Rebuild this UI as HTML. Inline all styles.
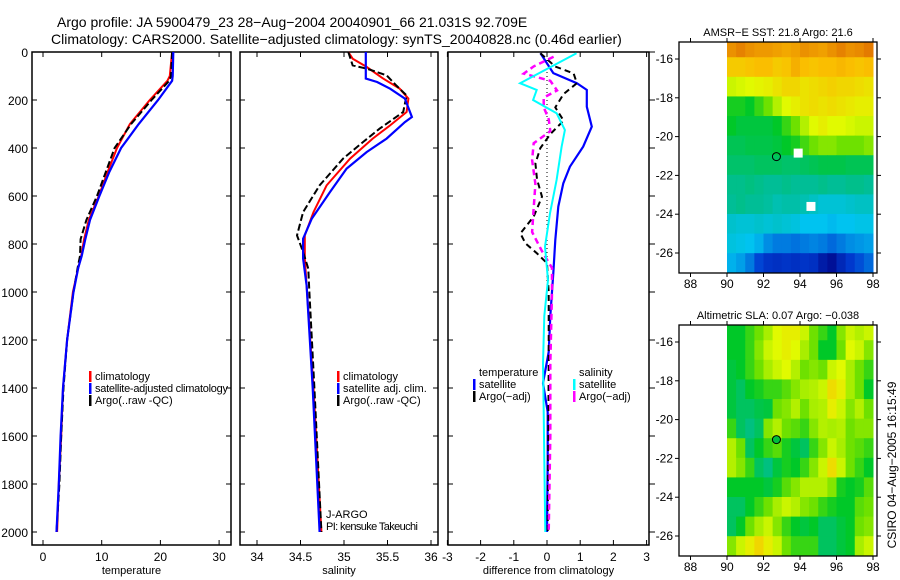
<!DOCTYPE html>
<html><head><meta charset="utf-8"><style>
body{margin:0;background:#fff;}
svg{display:block;font-family:"Liberation Sans",sans-serif;}
</style></head><body>
<svg id="fig" width="900" height="580" viewBox="0 0 900 580">
<text x="57" y="27" font-size="14">Argo profile: JA 5900479_23 28−Aug−2004 20040901_66 21.031S 92.709E</text>
<text x="51" y="44" font-size="14">Climatology: CARS2000. Satellite−adjusted climatology: synTS_20040828.nc (0.46d earlier)</text>
</svg>
<script>
// ---- data ----
const depthT = [0,100,120,200,300,400,500,600,700,780,850,900,1000,1200,1400,1600,1800,2000];
const tempClim = [22,21.6,21.2,18.2,14.8,12.6,11,9.5,7.8,7.0,6.5,6,5.1,4.1,3.4,3.1,2.7,2.4];
const tempSat = [22.2,22.1,22.0,19.6,16.3,13.3,11.3,9.6,8,7.2,6.6,6,5.2,4.1,3.4,3.0,2.7,2.3];
const tempArgo = [22,21.8,21.5,18.5,15,12.2,10.7,9.2,7.4,6.4,6.3,5.9,5.2,4.1,3.5,3.1,2.8,2.3];
const depthSB = [0,111,125,153,194,271,292,361,417,486,583,694,778,861,972,1400,2000];
const salSat = [35.25,35.25,35.38,35.53,35.70,35.78,35.70,35.49,35.26,35.03,34.84,34.63,34.53,34.53,34.57,34.64,34.72];
const depthSR = [0,28,62,111,153,194,250,306,361,444,556,667,764,861,972,1400,2000];
const salClim = [35.05,35.1,35.26,35.45,35.64,35.74,35.72,35.53,35.33,35.07,34.8,34.65,34.55,34.55,34.57,34.65,34.74];
const depthSK = [0,56,69,97,139,181,250,319,375,444,556,667,764,833,903,986,1400,2000];
const salArgo = [35.05,35.1,35.26,35.49,35.6,35.72,35.68,35.41,35.22,34.99,34.72,34.53,34.46,34.53,34.59,34.6,34.66,34.74];
const dDepthTS = [5,88,130,158,228,311,394,478,547,644,783,922,1100,1250,1380,1500,1700,2000];
const dTempSat = [-0.2,0.19,0.9,1.2,1.2,1.35,1.09,0.69,0.49,0.34,0.25,0.19,0.1,0.05,-0.12,0.02,0.02,0.0];
const dDepthSS = [5,130,158,200,255,325,395,533,672,811,950,1100,1300,1500,1700,2000];
const dSalSat = [0.89,-0.81,-0.31,-0.42,0.29,0.54,0.44,0.29,0.09,-0.06,0.03,-0.08,-0.12,-0.1,-0.08,-0.05];
const dDepthTA = [5,60,89,130,175,231,286,342,400,464,530,603,686,756,797,839,880,1000,1300,2000];
const dTempArgo = [-0.2,0.24,0.8,0.9,0.5,0.25,0.5,0.1,-0.2,-0.35,-0.3,-0.15,-0.4,-0.8,-0.65,-0.3,0,0.05,0.05,0.02];
const dDepthSA = [20,60,90,120,160,190,230,280,330,380,450,550,650,750,830,900,1000,1300,1600,2000];
const dSalArgo = [0.2,-0.4,-0.7,0.1,0.3,-0.1,-0.1,0.05,0.1,-0.4,-0.45,-0.35,-0.4,-0.45,-0.15,0.15,0.15,0.1,0.1,0.05];
const depthTicks = [0,200,400,600,800,1000,1200,1400,1600,1800,2000];
const tTicks = [0,10,20,30];
const sTicks = [34,34.5,35,35.5,36];
const dTicks = [-3,-2,-1,0,1,2,3];
const lonTicks = [88,90,92,94,96,98];
const latTicks = [-16,-18,-20,-22,-24,-26];
const sstGrid = [
[0.86,0.88,0.86,0.85,0.85,0.84,0.83,0.84,0.86,0.85,0.84,0.86,0.88,0.86,0.87,0.89],
[0.78,0.78,0.79,0.8,0.8,0.78,0.79,0.82,0.8,0.79,0.8,0.8,0.81,0.8,0.79,0.8],
[0.68,0.69,0.7,0.71,0.72,0.74,0.76,0.76,0.74,0.75,0.76,0.77,0.76,0.76,0.75,0.74],
[0.52,0.52,0.5,0.55,0.6,0.66,0.7,0.72,0.74,0.75,0.74,0.75,0.74,0.73,0.72,0.72],
[0.5,0.48,0.48,0.48,0.48,0.5,0.55,0.6,0.66,0.7,0.72,0.7,0.7,0.69,0.68,0.68],
[0.46,0.46,0.47,0.47,0.47,0.48,0.5,0.52,0.56,0.6,0.62,0.62,0.6,0.6,0.6,0.62],
[0.44,0.44,0.44,0.45,0.45,0.45,0.44,0.44,0.45,0.46,0.47,0.47,0.47,0.46,0.46,0.46],
[0.41,0.41,0.42,0.41,0.4,0.4,0.41,0.4,0.4,0.4,0.41,0.4,0.4,0.41,0.41,0.4],
[0.4,0.41,0.4,0.4,0.39,0.37,0.38,0.38,0.37,0.35,0.33,0.33,0.33,0.34,0.35,0.35],
[0.34,0.33,0.33,0.34,0.33,0.34,0.33,0.32,0.3,0.3,0.3,0.29,0.3,0.3,0.31,0.31],
[0.32,0.31,0.3,0.28,0.24,0.22,0.22,0.21,0.22,0.23,0.22,0.2,0.22,0.24,0.25,0.26],
[0.28,0.26,0.22,0.16,0.13,0.12,0.13,0.12,0.13,0.12,0.07,0.04,0.1,0.14,0.17,0.2]];
const slaGrid = [
[0.5,0.5,0.55,0.6,0.65,0.7,0.72,0.72,0.68,0.6,0.55,0.5,0.62,0.68,0.66,0.68],
[0.5,0.5,0.55,0.62,0.68,0.7,0.72,0.7,0.65,0.6,0.5,0.5,0.6,0.7,0.68,0.62],
[0.48,0.5,0.55,0.6,0.65,0.68,0.7,0.66,0.6,0.62,0.6,0.68,0.7,0.65,0.6,0.55],
[0.48,0.45,0.5,0.52,0.55,0.55,0.58,0.62,0.65,0.66,0.68,0.75,0.72,0.65,0.6,0.5],
[0.48,0.45,0.45,0.47,0.48,0.6,0.62,0.66,0.6,0.65,0.66,0.72,0.68,0.62,0.66,0.6],
[0.55,0.45,0.42,0.45,0.62,0.66,0.6,0.58,0.55,0.62,0.66,0.65,0.66,0.6,0.62,0.62],
[0.66,0.6,0.45,0.5,0.55,0.58,0.52,0.48,0.45,0.55,0.62,0.68,0.65,0.6,0.58,0.55],
[0.66,0.62,0.55,0.45,0.42,0.48,0.52,0.5,0.55,0.62,0.68,0.75,0.68,0.6,0.55,0.5],
[0.5,0.5,0.5,0.5,0.48,0.52,0.58,0.62,0.66,0.66,0.66,0.62,0.52,0.5,0.52,0.58],
[0.45,0.45,0.5,0.55,0.6,0.65,0.68,0.66,0.62,0.6,0.55,0.52,0.5,0.5,0.58,0.6],
[0.45,0.5,0.6,0.65,0.68,0.62,0.55,0.5,0.48,0.5,0.45,0.45,0.48,0.5,0.6,0.62],
[0.62,0.68,0.72,0.76,0.72,0.68,0.6,0.55,0.55,0.55,0.45,0.45,0.48,0.5,0.65,0.68]];
const floatLon = 92.709, floatLat = -21.031;
const satLons = [93.9,94.6], satLats = [-20.85,-23.6];

// ---- helpers ----
const NS='http://www.w3.org/2000/svg';
const svg=document.getElementById('fig');
function mk(tag,attrs,parent){const e=document.createElementNS(NS,tag);for(const k in attrs)e.setAttribute(k,attrs[k]);(parent||svg).appendChild(e);return e;}
const yD = d => 52 + d*0.24;
function linePts(xs,ds,xf){return xs.map((v,i)=>xf(v).toFixed(1)+','+yD(ds[i]).toFixed(1)).join(' ');}

function panel(name,x0,x1,xf,ticks,labelFmt,xlabel,rightTicksOutside,leftLabels){
  const g=mk('g',{});
  
  
  const r=mk('rect',{x:x0,y:52,width:x1-x0,height:493,fill:'none',stroke:'#000','stroke-width':1.5},g);
  
  
  depthTicks.forEach(d=>{
    const y=yD(d);
    mk('line',{x1:x0,x2:x0+5,y1:y,y2:y,stroke:'#000'},g);
    if(rightTicksOutside) mk('line',{x1:x1,x2:x1+6,y1:y,y2:y,stroke:'#000'},g);
    else mk('line',{x1:x1-5,x2:x1,y1:y,y2:y,stroke:'#000'},g);
    if(leftLabels){const t=mk('text',{x:x0-4,y:y+5,'font-size':12,'text-anchor':'end'},g);t.textContent=d;
      
      }
  });
  ticks.forEach(v=>{
    const x=xf(v);
    mk('line',{x1:x,x2:x,y1:545,y2:540,stroke:'#000'},g);
    mk('line',{x1:x,x2:x,y1:52,y2:57,stroke:'#000'},g);
    const t=mk('text',{x:x,y:561,'font-size':12,'text-anchor':'middle'},g);t.textContent=labelFmt(v);
    
    
  });
  const xl=mk('text',{x:(x0+x1)/2,y:574,'font-size':11,'text-anchor':'middle'},g);xl.textContent=xlabel;
  
  
  return g;
}
function series(g,name,xs,ds,xf,color,w,dash){
  const p=mk('polyline',{points:linePts(xs,ds,xf),fill:'none',stroke:color,'stroke-width':w},g);
  if(dash)p.setAttribute('stroke-dasharray',dash);
  
  
}
function legend(g,x,y,items){
  items.forEach((it,i)=>{
    const yy=y+i*12;
    if(it.c){const m=mk('rect',{x:x,y:yy-9,width:2.5,height:11,fill:it.c},g);
      
      }
    const t=mk('text',{x:x+6,y:yy,'font-size':11,'textLength':it.w||null},g);
    if(!it.w)t.removeAttribute('textLength');
    t.textContent=it.t;
    
    
  });
}

// temperature
const xT=v=>43+5.87*v;
const g1=panel('temperature',32,231,xT,tTicks,v=>v,'temperature',false,true);
series(g1,'temp-climatology-line',tempClim,depthT,xT,'#f00',2);
series(g1,'temp-argo-line',tempArgo,depthT,xT,'#000',2,'7,3');
series(g1,'temp-satellite-line',tempSat,depthT,xT,'#00f',2.2);
legend(g1,89,380,[{c:'#f00',t:'climatology'},{c:'#00f',t:'satellite-adjusted climatology',w:133},{c:'#000',t:'Argo(..raw -QC)'}]);

// salinity
const xS=v=>257+87*(v-34);
const g2=panel('salinity',240,438,xS,sTicks,v=>v,'salinity',false,false);
series(g2,'sal-climatology-line',salClim,depthSR,xS,'#f00',2);
series(g2,'sal-argo-line',salArgo,depthSK,xS,'#000',2,'7,3');
series(g2,'sal-satellite-line',salSat,depthSB,xS,'#00f',2.2);
legend(g2,337,380,[{c:'#f00',t:'climatology'},{c:'#00f',t:'satellite adj. clim.'},{c:'#000',t:'Argo(..raw -QC)'}]);
legend(g2,320,518,[{t:'J-ARGO'},{t:'PI: kensuke Takeuchi',w:92}]);

// difference
const xDf=v=>547+33.2*v;
const g3=panel('difference',448,649,xDf,dTicks,v=>v,'difference from climatology',true,false);
mk('line',{x1:547,x2:547,y1:yD(0),y2:yD(1000),stroke:'#000','stroke-dasharray':'1,3'},g3);
series(g3,'diff-temp-satellite-line',dTempSat,dDepthTS,xDf,'#00f',2.2);
series(g3,'diff-temp-argo-line',dTempArgo,dDepthTA,xDf,'#000',2,'6,4');
series(g3,'diff-sal-argo-line',dSalArgo,dDepthSA,xDf,'#f0f',2.5,'6,4');
series(g3,'diff-sal-satellite-line',dSalSat,dDepthSS,xDf,'#0ff',2);
legend(g3,473,376,[{t:'temperature'},{c:'#00f',t:'satellite'},{c:'#000',t:'Argo(−adj)'}]);
legend(g3,573,376,[{t:'salinity'},{c:'#0ff',t:'satellite'},{c:'#f0f',t:'Argo(−adj)'}]);

// maps
const stops=[[0,[0,0,130]],[0.15,[0,60,210]],[0.3,[0,195,240]],[0.4,[0,190,150]],[0.5,[0,200,40]],[0.6,[110,225,0]],[0.7,[225,250,0]],[0.8,[250,190,0]],[0.9,[225,115,0]],[1,[200,60,0]]];
function cmap(v){for(let i=1;i<stops.length;i++){if(v<=stops[i][0]){const a=stops[i-1],b=stops[i],f=(v-a[0])/(b[0]-a[0]);return 'rgb('+a[1].map((c,k)=>Math.round(c+(b[1][k]-c)*f)).join(',')+')';}}return 'rgb(200,60,0)';}
const defs=mk('defs',{});
function map(name,top,grid,title,markers){
  const bottom=top+231;
  const lx=v=>727+18.25*(v-90);
  const ly=v=>(top+17)+((-16)-v)*19.4;
  const cp=mk('clipPath',{id:'clip-'+name},defs);
  mk('rect',{x:679,y:top,width:198,height:bottom-top},cp);
  const g=mk('g',{});
  
  
  const cells=mk('g',{'clip-path':'url(#clip-'+name+')'},g);
  grid.forEach((row,ri)=>row.forEach((v,ci)=>{
    const xa=lx(90+ci*0.5), xb=lx(90+(ci+1)*0.5);
    const ya=ly(-14.9-ri*1.01), yb=ly(-15.91-ri*1.01);
    const r=mk('rect',{x:xa,y:ya,width:xb-xa+0.5,height:yb-ya+0.5,fill:cmap(v)},cells);
    
    
  }));
  mk('rect',{x:679,y:top,width:198,height:bottom-top,fill:'none',stroke:'#000','stroke-width':1.3},g);
  lonTicks.forEach(v=>{const x=lx(v);mk('line',{x1:x,x2:x,y1:top,y2:top-4,stroke:'#000'},g);mk('line',{x1:x,x2:x,y1:bottom,y2:bottom+4,stroke:'#000'},g);
    const t=mk('text',{x:x,y:bottom+15,'font-size':12,'text-anchor':'middle'},g);t.textContent=v;
    
    });
  latTicks.forEach(v=>{const y=ly(v);mk('line',{x1:679,x2:675,y1:y,y2:y,stroke:'#000'},g);mk('line',{x1:877,x2:881,y1:y,y2:y,stroke:'#000'},g);
    const t=mk('text',{x:673,y:y+4,'font-size':12,'text-anchor':'end'},g);t.textContent=v;
    
    });
  const tt=mk('text',{x:778,y:top-6,'font-size':11,'text-anchor':'middle'},g);tt.textContent=title;
  
  
  markers(g,lx,ly);
}
map('sst-map',42,sstGrid,'AMSR−E SST: 21.8 Argo: 21.6',(g,lx,ly)=>{
  satLons.forEach((lo,i)=>{const s=mk('rect',{x:lx(lo)-4.5,y:ly(satLats[i])-4.5,width:9,height:9,fill:'#fff'},g);
    
    });
  const c=mk('circle',{cx:lx(floatLon),cy:ly(floatLat),r:4,fill:'none',stroke:'#000'},g);
  
  
});
map('sla-map',325,slaGrid,'Altimetric SLA: 0.07 Argo: −0.038',(g,lx,ly)=>{
  const c=mk('circle',{cx:lx(floatLon),cy:ly(floatLat),r:4,fill:'rgb(0,190,60)',stroke:'#000'},g);
  
  
});
const cs=mk('text',{transform:'translate(896,465) rotate(-90)','font-size':12,'text-anchor':'middle'});
cs.textContent='CSIRO 04−Aug−2005 16:15:49';


</script>
</body></html>
